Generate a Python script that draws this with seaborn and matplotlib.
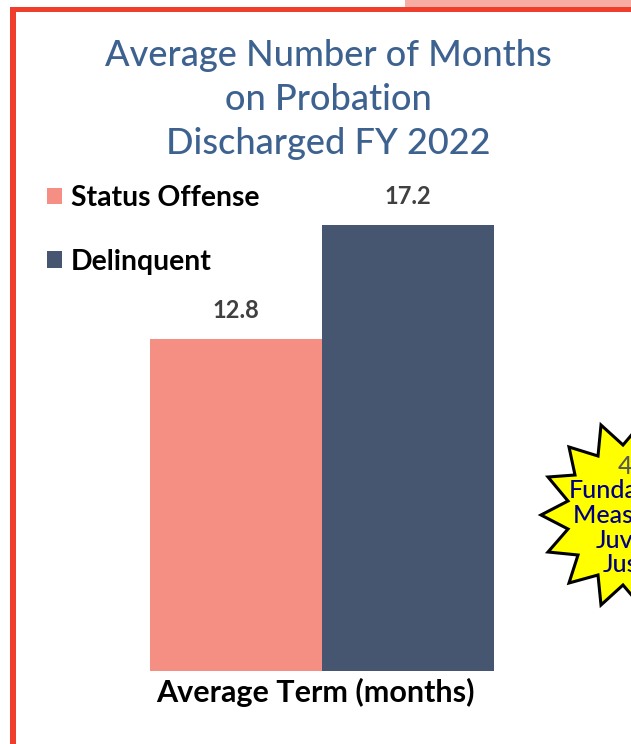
import pandas as pd
import matplotlib
matplotlib.use('Agg')
import matplotlib.pyplot as plt
from matplotlib.patches import Rectangle, Polygon
import seaborn as sns

# podaci
measure = ['Average Term (months)']
groups = ['Status Offense', 'Delinquent']
months = [12.8, 17.2]
title_lines = ['Average Number of Months', 'on Probation', 'Discharged FY 2022']
star_lines = ['4', 'Fundamental', 'Measures of', 'Juvenile', 'Justice']

W, H = 631, 744
PINK, NAVY = '#f58f84', '#465670'
RED = '#ef3e2c'

sns.set_theme(style='white')
plt.rcParams['font.family'] = ['Lato', 'DejaVu Sans']

df = pd.DataFrame({'measure': measure * 2, 'group': groups, 'months': months})


def fx(x):
    return x / W


def fy(y):
    return 1 - y / H


fig = plt.figure(figsize=(W / 100, H / 100), dpi=100)
fig.patch.set_facecolor('white')

# okvir
fig.add_artist(Rectangle((fx(405), fy(7)), fx(226), 7 / H, color='#f7ada4', lw=0))
fig.add_artist(Rectangle((fx(10), fy(12)), fx(621), 5 / H, color=RED, lw=0))
fig.add_artist(Rectangle((fx(10), 0), fx(6), fy(7), color=RED, lw=0))

# graf
ax = fig.add_axes([fx(150), fy(671), fx(344), (671 - 225) / H])
sns.barplot(data=df, x='measure', y='months', hue='group', hue_order=groups,
            palette=[PINK, NAVY], width=1, gap=0, saturation=1, linewidth=0, ax=ax)
ax.set_xlim(-0.5, 0.5)
ax.set_ylim(0, 17.2)
ax.set_xlabel('')
ax.set_ylabel('')
ax.set_yticks([])
ax.set_xticks([-7 / 344])
ax.set_xticklabels(measure, fontsize=22, fontweight='bold', color='#000000')
ax.tick_params(axis='x', length=0, pad=5)
sns.despine(ax=ax, left=True, bottom=True)
ax.patch.set_alpha(0)

for c in ax.containers:
    ax.bar_label(c, fmt='%.1f', padding=12, fontsize=17, fontweight='bold',
                 color='#404040', clip_on=False)

# legenda
ax.legend(loc='upper left', bbox_to_anchor=(fx(47), fy(185)), bbox_transform=fig.transFigure,
          frameon=False, labelspacing=1.34, handlelength=0.54, handleheight=0.54,
          handletextpad=0.3, borderpad=0, borderaxespad=0, labelcolor='#000000',
          prop={'weight': 'bold', 'size': 20.4})

# naslov
for i, line in enumerate(title_lines):
    fig.text(fx(328), fy(55 + 44 * i), line, ha='center', va='center',
             fontsize=26, fontweight='medium', color='#3d628f')

# zvijezda
star = [(601, 425), (623, 445), (640, 425), (660, 515), (640, 605), (623, 585), (601, 605),
        (598, 575), (569, 583), (578, 555), (548, 552), (568, 529), (541, 515),
        (568, 501), (548, 477), (575, 475), (569, 447), (598, 456)]
fig.add_artist(Polygon([(fx(x), fy(y)) for x, y in star], closed=True,
                       facecolor='#ffff00', edgecolor='black', lw=2.2))
for i, line in enumerate(star_lines):
    fig.text(fx(625 if i == 0 else 641), fy(466 + 24.7 * i), line, ha='center', va='center',
             fontsize=18, fontweight='medium', color='#595959' if i == 0 else '#000080')

fig.savefig('out.png', dpi=100)
